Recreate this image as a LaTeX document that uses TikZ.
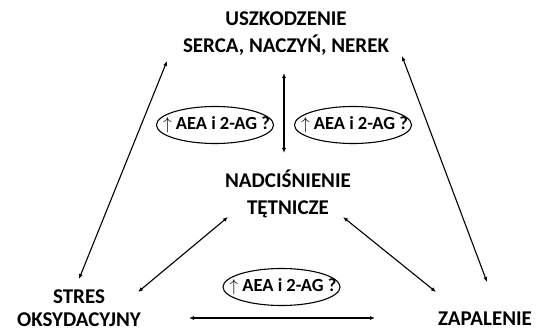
\documentclass[tikz,border=0pt]{standalone}
\usepackage{fontspec}
\setmainfont{Carlito}
\usepackage{tikz}
\usetikzlibrary{arrows.meta,shapes.geometric}

\begin{document}
\begin{tikzpicture}[
    x=1pt, y=-1pt,
    term/.style={inner sep=0pt, align=center, font=\fontsize{21}{26.5}\selectfont\bfseries},
    marker/.style={draw, ellipse, line width=1.1pt, inner sep=0pt, minimum width=117pt, minimum height=37pt, font=\fontsize{18.5}{20}\selectfont\bfseries},
    link/.style={{Latex[length=5pt,width=4pt]}-{Latex[length=5pt,width=4pt]}, line width=1.1pt}
]
    \useasboundingbox (0,0) rectangle (543,331);

    % Main terms
    \node[term] (uszk) at (286,33.5) {USZKODZENIE\\SERCA, NACZYŃ, NEREK};
    \node[term] (nadc) at (288,194) {NADCIŚNIENIE\\TĘTNICZE};
    \node[term, font=\fontsize{21}{23}\selectfont\bfseries] (stres) at (79,308.5) {STRES\\OKSYDACYJNY};
    \node[term] (zap) at (485,318.5) {ZAPALENIE};

    % Endocannabinoid markers (text box kept out of the ellipse size)
    \node[marker] (mk1) at (215,125) {\makebox[0pt]{\kern3pt$\uparrow$\ AEA i 2-AG ?}};
    \node[marker] (mk2) at (353,125) {\makebox[0pt]{\kern3pt$\uparrow$\ AEA i 2-AG ?}};
    \node[marker] (mk3) at (281.5,287) {\makebox[0pt]{\kern3pt$\uparrow$\ AEA i 2-AG ?}};

    % Connections
    \draw[link] ([shift={(-2,39.5)}]uszk.center) -- ([shift={(-4,-41)}]nadc.center);
    \draw[link] ([shift={(0,-29.5)}]stres.center) -- ([shift={(-119,27.5)}]uszk.center);
    \draw[link] ([shift={(2,-36.5)}]zap.center) -- ([shift={(116,22.5)}]uszk.center);
    \draw[link] ([shift={(59,-16.5)}]stres.center) -- ([shift={(-60,23)}]nadc.center);
    \draw[link] ([shift={(-49,-26.5)}]zap.center) -- ([shift={(55,23)}]nadc.center);
    \draw[link] ([shift={(110,9.5)}]stres.center) -- ([shift={(-110,-0.5)}]zap.center);
\end{tikzpicture}
\end{document}
